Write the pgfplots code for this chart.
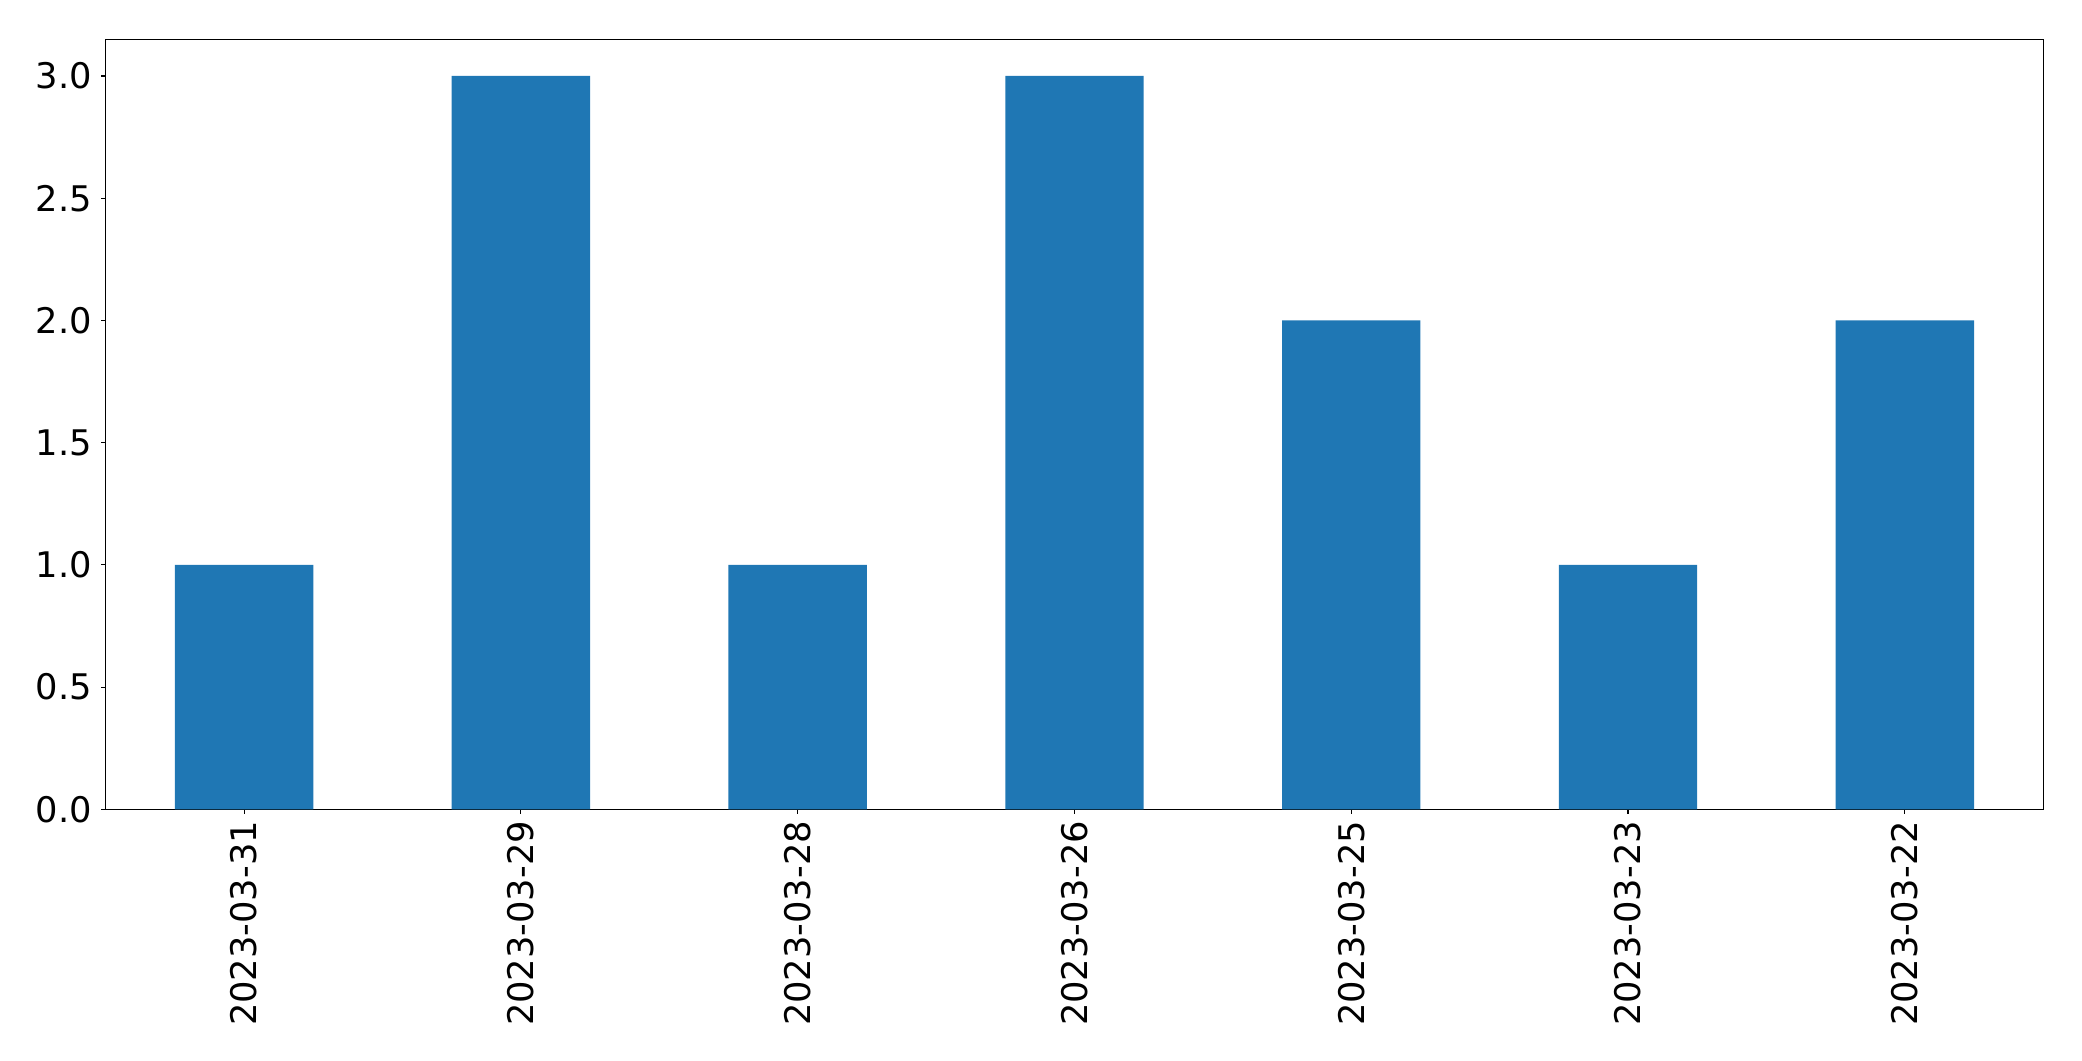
\documentclass[border=0pt]{standalone}
\usepackage{fontspec}
\setmainfont{DejaVu Sans}
\usepackage{pgfplots}
\pgfplotsset{compat=1.18}
\definecolor{mplblue}{HTML}{1F77B4}
\begin{document}
\begin{tikzpicture}
\begin{axis}[
  at={(0,0)}, anchor=south west,
  scale only axis,
  width=1395.1bp, height=554.4bp,
  xmin=-0.5, xmax=6.5,
  ymin=0, ymax=3.15,
  xtick={0,1,2,3,4,5,6},
  xticklabels={2023-03-31,2023-03-29,2023-03-28,2023-03-26,2023-03-25,2023-03-23,2023-03-22},
  ytick={0,0.5,1,1.5,2,2.5,3},
  yticklabel style={/pgf/number format/fixed,/pgf/number format/precision=1,/pgf/number format/fixed zerofill},
  /pgf/number format/assume math mode=true,
  tick align=outside,
  major tick length=3.2bp,
  tick style={black, line width=0.8bp},
  axis line style={black, line width=0.8bp},
  xtick pos=bottom, ytick pos=left,
  ticklabel style={font=\fontsize{25.4bp}{30bp}\selectfont},
  xticklabel style={rotate=90, anchor=east, inner sep=0pt, xshift=-5bp},
  yticklabel style={anchor=east, inner sep=0pt, xshift=-6.4bp},
  ybar, bar width=0.5,
]
\addplot[fill=mplblue, draw=none] coordinates {(0,1) (1,3) (2,1) (3,3) (4,2) (5,1) (6,2)};
\end{axis}
\pgfresetboundingbox
\path[use as bounding box] (-76.1bp,-181.2bp) rectangle (1423.0bp,582.7bp);
\end{tikzpicture}
\end{document}
